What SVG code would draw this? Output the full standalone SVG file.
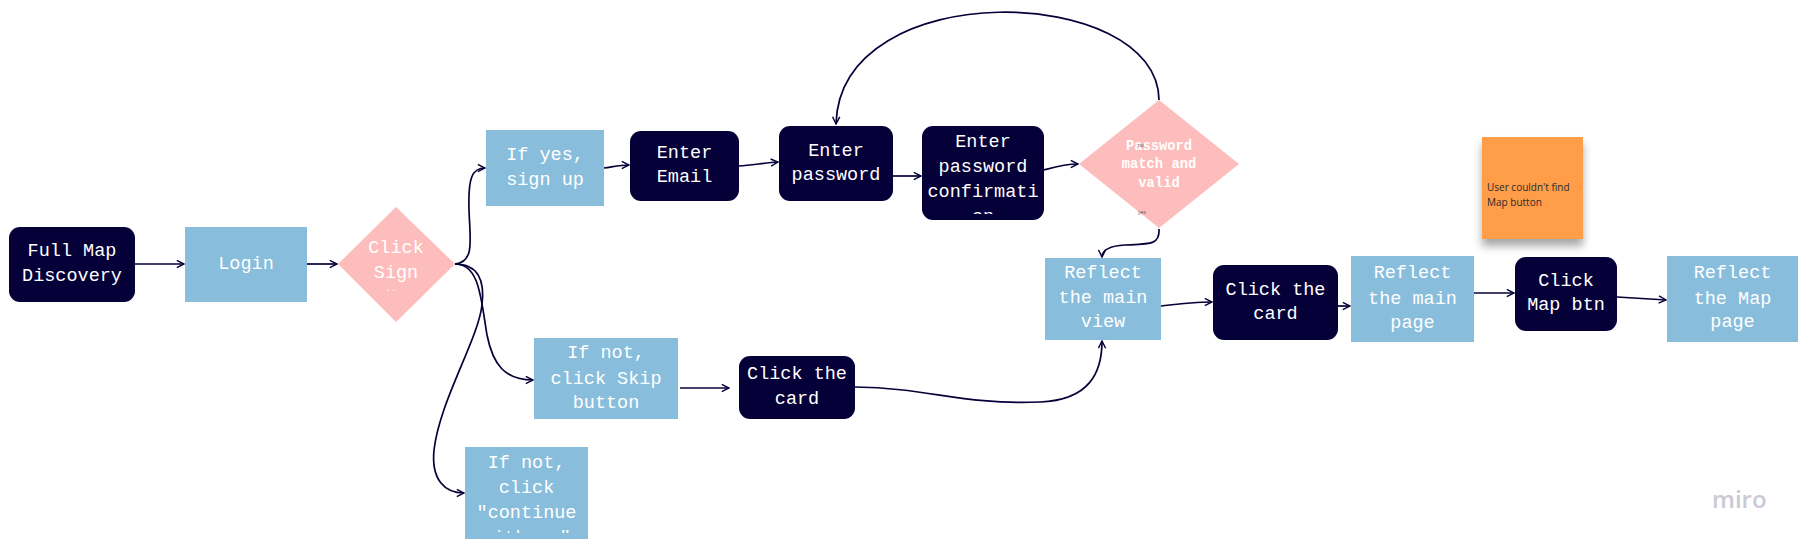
<svg xmlns="http://www.w3.org/2000/svg" width="1811" height="551" viewBox="0 0 1811 551">
<style>
.nv{fill:#050038}
.bl{fill:#88BDDC}
.pk{fill:#FDBDBC}
.t{font-family:"Liberation Mono","DejaVu Sans Mono",monospace;font-size:18.5px;fill:#ffffff;text-anchor:middle;dominant-baseline:central}
.ts{font-family:"Liberation Mono","DejaVu Sans Mono",monospace;font-size:13.8px;font-weight:bold;fill:#ffffff;text-anchor:middle;dominant-baseline:central}
.tiny{font-family:"Liberation Sans",sans-serif;font-size:5px;fill:#555566}
.c{fill:none;stroke:#050038;stroke-width:1.7}
</style>
<defs>
<marker id="ah" viewBox="0 0 10 10" refX="9" refY="5" markerWidth="9" markerHeight="9" markerUnits="userSpaceOnUse" orient="auto">
<path d="M1,1 L9,5 L1,9" fill="none" stroke="#050038" stroke-width="1.6"/>
</marker>
<filter id="sh" x="-20%" y="-20%" width="140%" height="150%">
<feDropShadow dx="0" dy="7" stdDeviation="4" flood-color="#000000" flood-opacity="0.35"/>
</filter>
<clipPath id="cpSign"><polygon points="338,264 396,207 455,264 396,322"/></clipPath>
<clipPath id="cpConf"><rect x="922" y="126" width="122" height="88"/></clipPath>
<clipPath id="cpCont"><rect x="465" y="447" width="123" height="86"/></clipPath>
</defs>
<rect width="1811" height="551" fill="#ffffff"/>

<g id="connectors">
<path class="c" d="M135,264 L184,264" marker-end="url(#ah)"/>
<path class="c" d="M307,264 L337,264" marker-end="url(#ah)"/>
<path class="c" d="M455,264 C475,262 470,240 469,210 C468,178 472,168 485,168" marker-end="url(#ah)"/>
<path class="c" d="M455,264 C480,264 481,300 487,335 C493,365 505,380 533,380" marker-end="url(#ah)"/>
<path class="c" d="M455,264 C478,264 485,280 482,305 C478,340 440,400 434,450 C431,480 445,493 464,493" marker-end="url(#ah)"/>
<path class="c" d="M604,168 C612,167 620,165 629,165" marker-end="url(#ah)"/>
<path class="c" d="M739,166 C752,165 765,163 778,162" marker-end="url(#ah)"/>
<path class="c" d="M893,176 L921,176" marker-end="url(#ah)"/>
<path class="c" d="M1044,170 C1055,167 1065,164 1078,164" marker-end="url(#ah)"/>
<path class="c" d="M1159,100 C1158,-16 840,-26 836,124" marker-end="url(#ah)"/>
<path class="c" d="M1159,229 C1160,245 1150,244 1125,245 C1108,246 1102,250 1102,257" marker-end="url(#ah)"/>
<path class="c" d="M680,388 L729,388" marker-end="url(#ah)"/>
<path class="c" d="M855,387 C930,388 960,405 1040,402 C1090,400 1102,372 1102,341" marker-end="url(#ah)"/>
<path class="c" d="M1161,306 C1178,304 1195,302 1212,302" marker-end="url(#ah)"/>
<path class="c" d="M1338,306 L1350,306" marker-end="url(#ah)"/>
<path class="c" d="M1474,293 L1514,293" marker-end="url(#ah)"/>
<path class="c" d="M1617,297 C1635,298 1650,299 1666,300" marker-end="url(#ah)"/>
</g>

<g id="full-map-discovery">
<rect class="nv" x="9" y="227" width="126" height="75" rx="11"/>
<text class="t" x="72" y="251">Full Map</text>
<text class="t" x="72" y="276">Discovery</text>
</g>

<g id="login">
<rect class="bl" x="185" y="227" width="122" height="75"/>
<text class="t" x="246" y="264">Login</text>
</g>

<g id="click-sign">
<polygon class="pk" points="338,264 396,207 455,264 396,322"/>
<g clip-path="url(#cpSign)">
<text class="t" x="396" y="248">Click</text>
<text class="t" x="396" y="273">Sign</text>
<text class="t" x="391" y="289" style="font-size:9px">..</text>
</g>
</g>

<g id="if-yes">
<rect class="bl" x="486" y="130" width="118" height="76"/>
<text class="t" x="545" y="155">If yes,</text>
<text class="t" x="545" y="180">sign up</text>
</g>

<g id="enter-email">
<rect class="nv" x="630" y="131" width="109" height="70" rx="11"/>
<text class="t" x="684.5" y="153">Enter</text>
<text class="t" x="684.5" y="177">Email</text>
</g>

<g id="enter-password">
<rect class="nv" x="779" y="126" width="114" height="75" rx="11"/>
<text class="t" x="836" y="151">Enter</text>
<text class="t" x="836" y="175">password</text>
</g>

<g id="enter-password-confirmation">
<rect class="nv" x="922" y="126" width="122" height="94" rx="11"/>
<g clip-path="url(#cpConf)">
<text class="t" x="983" y="142">Enter</text>
<text class="t" x="983" y="167">password</text>
<text class="t" x="983" y="192">confirmati</text>
<text class="t" x="983" y="217">on</text>
</g>
</g>

<g id="password-valid">
<polygon class="pk" points="1079,164 1159,100 1239,164 1159,228"/>
<text class="ts" x="1159" y="146">Password</text>
<text class="ts" x="1159" y="164.5">match and</text>
<text class="ts" x="1159" y="183">valid</text>
<text class="tiny" x="1138" y="147">no</text>
<text class="tiny" x="1138" y="214">yes</text>
</g>

<g id="reflect-main-view">
<rect class="bl" x="1045" y="258" width="116" height="82"/>
<text class="t" x="1103" y="273">Reflect</text>
<text class="t" x="1103" y="298">the main</text>
<text class="t" x="1103" y="322">view</text>
</g>

<g id="click-card-top">
<rect class="nv" x="1213" y="265" width="125" height="75" rx="11"/>
<text class="t" x="1275.5" y="290">Click the</text>
<text class="t" x="1275.5" y="314">card</text>
</g>

<g id="reflect-main-page">
<rect class="bl" x="1351" y="256" width="123" height="86"/>
<text class="t" x="1412.5" y="273">Reflect</text>
<text class="t" x="1412.5" y="299">the main</text>
<text class="t" x="1412.5" y="323">page</text>
</g>

<g id="sticky-note">
<rect x="1482" y="137" width="101" height="102" fill="#FF9D48" filter="url(#sh)"/>
<text x="1487" y="191" style="font-family:'Open Sans','Liberation Sans',sans-serif;font-size:10px;fill:#2a2a2a">User couldn't find</text>
<text x="1487" y="206" style="font-family:'Open Sans','Liberation Sans',sans-serif;font-size:10px;fill:#2a2a2a">Map button</text>
</g>

<g id="click-map-btn">
<rect class="nv" x="1515" y="257" width="102" height="74" rx="11"/>
<text class="t" x="1566" y="281">Click</text>
<text class="t" x="1566" y="305">Map btn</text>
</g>

<g id="reflect-map-page">
<rect class="bl" x="1667" y="256" width="131" height="86"/>
<text class="t" x="1732.5" y="273">Reflect</text>
<text class="t" x="1732.5" y="299">the Map</text>
<text class="t" x="1732.5" y="322">page</text>
</g>

<g id="if-not-skip">
<rect class="bl" x="534" y="338" width="144" height="81"/>
<text class="t" x="606" y="353">If not,</text>
<text class="t" x="606" y="379">click Skip</text>
<text class="t" x="606" y="403">button</text>
</g>

<g id="click-card-bottom">
<rect class="nv" x="739" y="356" width="116" height="63" rx="11"/>
<text class="t" x="797" y="374">Click the</text>
<text class="t" x="797" y="399">card</text>
</g>

<g id="if-not-continue">
<rect class="bl" x="465" y="447" width="123" height="92"/>
<g clip-path="url(#cpCont)">
<text class="t" x="526.5" y="463">If not,</text>
<text class="t" x="526.5" y="488">click</text>
<text class="t" x="526.5" y="513">"continue</text>
<text class="t" x="526.5" y="538">with..."</text>
</g>
</g>

<text x="1712" y="508" style="font-family:'Open Sans','Liberation Sans',sans-serif;font-size:24px;font-weight:600;fill:#C9CAD6">miro</text>
</svg>
